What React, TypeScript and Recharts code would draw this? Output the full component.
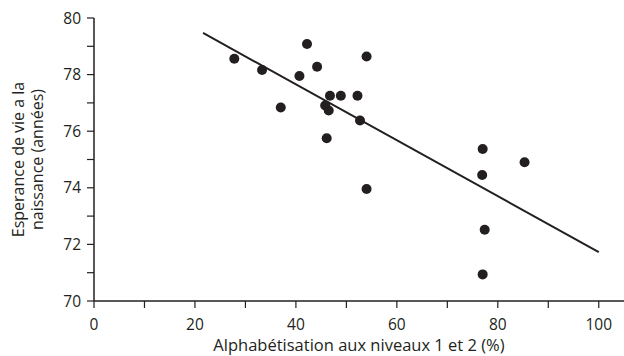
import React from "react";
import {
  ScatterChart,
  Scatter,
  XAxis,
  YAxis,
  ReferenceLine,
} from "recharts";

// literacy rate (%) and life expectancy (years), one entry per point
const literacy = [
  27.8, 33.3, 37.0, 40.7, 42.2, 44.2, 46.75, 48.9, 52.2, 45.8,
  46.5, 52.7, 46.1, 54.0, 54.0, 77.0, 85.3, 76.9, 77.4, 77.0,
];
const lifeExpectancy = [
  78.56, 78.16, 76.84, 77.95, 79.08, 78.28, 77.25, 77.25, 77.25, 76.91,
  76.73, 76.38, 75.75, 78.64, 73.96, 75.37, 74.9, 74.45, 72.52, 70.94,
];

// fitted trend line endpoints
const trendX = [21.6, 100];
const trendY = [79.47, 71.73];

const xTicks = [0, 10, 20, 30, 40, 50, 60, 70, 80, 90, 100];
const yTicks = [70, 71, 72, 73, 74, 75, 76, 77, 78, 79, 80];

const points = literacy.map((x, i) => ({ x, y: lifeExpectancy[i] }));
const trend = trendX.map((x, i) => ({ x, y: trendY[i] }));

const INK = "#231f20";
const FONT = "'Open Sans', sans-serif";

const Dot = (props: any) => (
  <circle cx={props.cx} cy={props.cy} r={5} fill={INK} />
);

const YLabel = ({ viewBox }: any) => {
  const cx = 24;
  const cy = viewBox.y + viewBox.height / 2;
  return (
    <text
      transform={`rotate(-90 ${cx} ${cy})`}
      x={cx}
      y={cy}
      textAnchor="middle"
      fill={INK}
      fontSize={16}
      fontFamily={FONT}
    >
      <tspan x={cx} dy={0}>Esperance de vie a la</tspan>
      <tspan x={cx} dy={19}>naissance (années)</tspan>
    </text>
  );
};

const XLabel = ({ viewBox }: any) => (
  <text
    x={viewBox.x + viewBox.width / 2}
    y={351}
    textAnchor="middle"
    fill={INK}
    fontSize={16.5}
    fontFamily={FONT}
  >
    Alphabétisation aux niveaux 1 et 2 (%)
  </text>
);

export default function App() {
  return (
    <div style={{ position: "absolute", left: 0, top: 0, background: "#fff" }}>
      <ScatterChart
        width={624}
        height={356}
        margin={{ top: 18, right: 0, bottom: 0, left: 0 }}
      >
        <XAxis
          type="number"
          dataKey="x"
          domain={[0, 105]}
          ticks={xTicks}
          tickFormatter={(v: number) => (v % 20 === 0 ? String(v) : "")}
          height={55}
          tickSize={7}
          tickMargin={11}
          axisLine={{ stroke: INK, strokeWidth: 1.5 }}
          tickLine={{ stroke: INK, strokeWidth: 1.2 }}
          tick={{ fill: INK, fontSize: 15.5, fontFamily: FONT }}
          label={{ content: XLabel }}
        />
        <YAxis
          type="number"
          dataKey="y"
          domain={[70, 80]}
          ticks={yTicks}
          tickFormatter={(v: number) => (v % 2 === 0 ? String(v) : "")}
          width={94}
          tickSize={7}
          tickMargin={6}
          axisLine={{ stroke: INK, strokeWidth: 1.5 }}
          tickLine={{ stroke: INK, strokeWidth: 1.2 }}
          tick={{ fill: INK, fontSize: 15.5, fontFamily: FONT }}
          label={{ content: YLabel }}
        />
        <ReferenceLine
          segment={trend}
          stroke={INK}
          strokeWidth={2}
          ifOverflow="visible"
        />
        <Scatter
          data={points}
          shape={Dot}
          isAnimationActive={false}
        />
      </ScatterChart>
    </div>
  );
}
